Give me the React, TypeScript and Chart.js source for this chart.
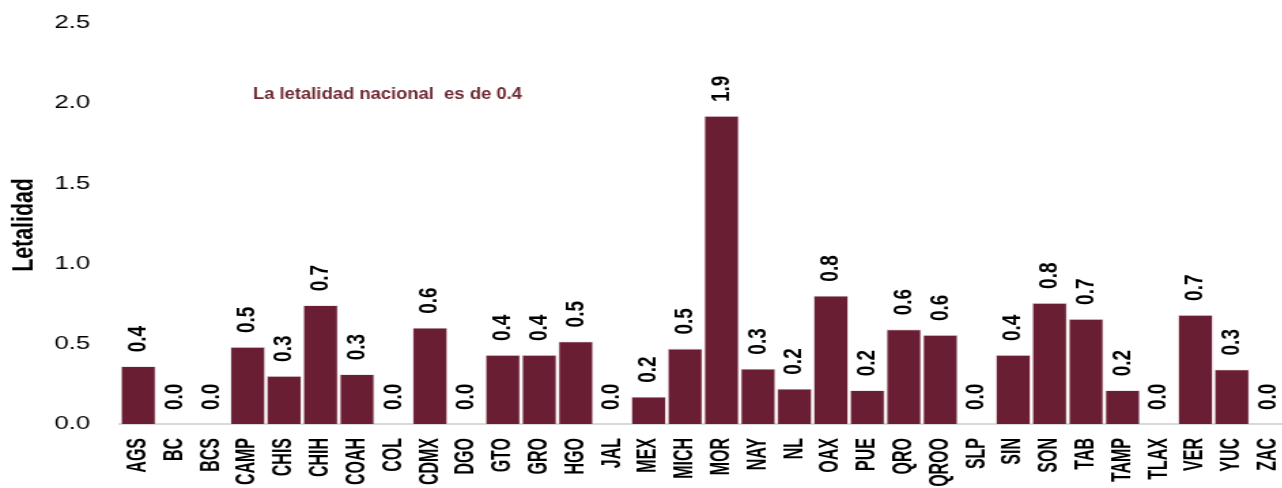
import React, { useEffect, useRef } from "react";
import { Chart, registerables } from "chart.js";

Chart.register(...registerables);

const categories = [
  "AGS", "BC", "BCS", "CAMP", "CHIS", "CHIH", "COAH", "COL", "CDMX", "DGO",
  "GTO", "GRO", "HGO", "JAL", "MEX", "MICH", "MOR", "NAY", "NL", "OAX",
  "PUE", "QRO", "QROO", "SLP", "SIN", "SON", "TAB", "TAMP", "TLAX", "VER",
  "YUC", "ZAC",
];

const letalidad = [
  0.36, 0, 0, 0.48, 0.3, 0.74, 0.31, 0, 0.6, 0,
  0.43, 0.43, 0.515, 0, 0.17, 0.47, 1.92, 0.345, 0.22, 0.8,
  0.21, 0.59, 0.555, 0, 0.43, 0.755, 0.655, 0.21, 0, 0.68,
  0.34, 0,
];

const yTicks = [0, 0.5, 1.0, 1.5, 2.0, 2.5];
const yTitle = "Letalidad";
const note = "La letalidad nacional  es de 0.4";

const BAR = "#6A1E33";
const FONT = '"Liberation Sans", Arial, sans-serif';

// internal canvas is stretched horizontally by the browser (like the reference)
const INTERNAL_W = 950;
const CSS_W = 1292;
const H = 488;

const textPlugin = {
  id: "textPlugin",
  afterDatasetsDraw(chart: any) {
    const ctx = chart.ctx;
    const meta = chart.getDatasetMeta(0);
    const xScale = chart.scales.x;
    // value labels
    meta.data.forEach((bar: any, i: number) => {
      ctx.save();
      ctx.translate(bar.x, bar.y - 14);
      ctx.rotate(-Math.PI / 2);
      ctx.font = `bold 19px ${FONT}`;
      ctx.fillStyle = "#000";
      ctx.textAlign = "left";
      ctx.textBaseline = "middle";
      ctx.fillText(letalidad[i].toFixed(1), 0, 0);
      ctx.restore();
    });
    // category labels
    categories.forEach((c, i) => {
      const x = xScale.getPixelForValue(i);
      ctx.save();
      ctx.translate(x, 438);
      ctx.rotate(-Math.PI / 2);
      ctx.scale(0.82, 1);
      ctx.font = `bold 19.5px ${FONT}`;
      ctx.fillStyle = "#000";
      ctx.textAlign = "right";
      ctx.textBaseline = "middle";
      ctx.fillText(c, 0, 0);
      ctx.restore();
    });
    // y axis title
    ctx.save();
    ctx.translate(17.6, 225);
    ctx.rotate(-Math.PI / 2);
    ctx.scale(0.97, 1);
    ctx.font = `bold 22px ${FONT}`;
    ctx.fillStyle = "#000";
    ctx.textAlign = "center";
    ctx.textBaseline = "middle";
    ctx.fillText(yTitle, 0, 0);
    ctx.restore();
    // note
    ctx.save();
    ctx.translate(186, 99);
    ctx.scale(0.82, 1);
    ctx.font = `bold 16.5px ${FONT}`;
    ctx.fillStyle = "#6F2932";
    ctx.textAlign = "left";
    ctx.textBaseline = "alphabetic";
    ctx.fillText(note, 0, 0);
    ctx.restore();
  },
};

export default function App() {
  const ref = useRef<HTMLCanvasElement | null>(null);

  useEffect(() => {
    if (!ref.current) return;
    const chart = new Chart(ref.current, {
      type: "bar",
      data: {
        labels: categories,
        datasets: [
          {
            data: letalidad,
            backgroundColor: BAR,
            borderColor: "#E6D6DA",
            borderWidth: 0.8,
            barPercentage: 0.96,
            categoryPercentage: 1,
          },
        ],
      },
      options: {
        responsive: false,
        devicePixelRatio: 1,
        animation: false,
        layout: { padding: { top: 23, right: 4, bottom: 0, left: 0 } },
        plugins: {
          legend: { display: false },
          tooltip: { enabled: false },
          title: { display: false },
        },
        scales: {
          x: {
            grid: { display: false, drawTicks: false },
            border: { display: true, color: "#D9D9D9", width: 2 },
            ticks: { display: false },
            afterFit: (s: any) => {
              s.height = 64;
            },
          },
          y: {
            min: 0,
            max: 2.5,
            afterBuildTicks: (s: any) => {
              s.ticks = yTicks.map((v) => ({ value: v }));
            },
            grid: { display: false, drawTicks: false },
            border: { display: false },
            ticks: {
              padding: 22,
              color: "#000",
              font: { family: FONT, size: 19 },
              callback: (v: any) => Number(v).toFixed(1),
            },
            afterFit: (s: any) => {
              s.width = 88.3;
              s.paddingTop = 0;
              s.paddingBottom = 0;
            },
          },
        },
      },
      plugins: [textPlugin],
    });
    return () => chart.destroy();
  }, []);

  return (
    <div
      style={{
        position: "absolute",
        left: 0,
        top: 0,
        width: 1282,
        height: H,
        overflow: "hidden",
        background: "#fff",
      }}
    >
      <canvas
        ref={ref}
        width={INTERNAL_W}
        height={H}
        style={{ width: `${CSS_W}px`, height: `${H}px`, display: "block" }}
      />
    </div>
  );
}
